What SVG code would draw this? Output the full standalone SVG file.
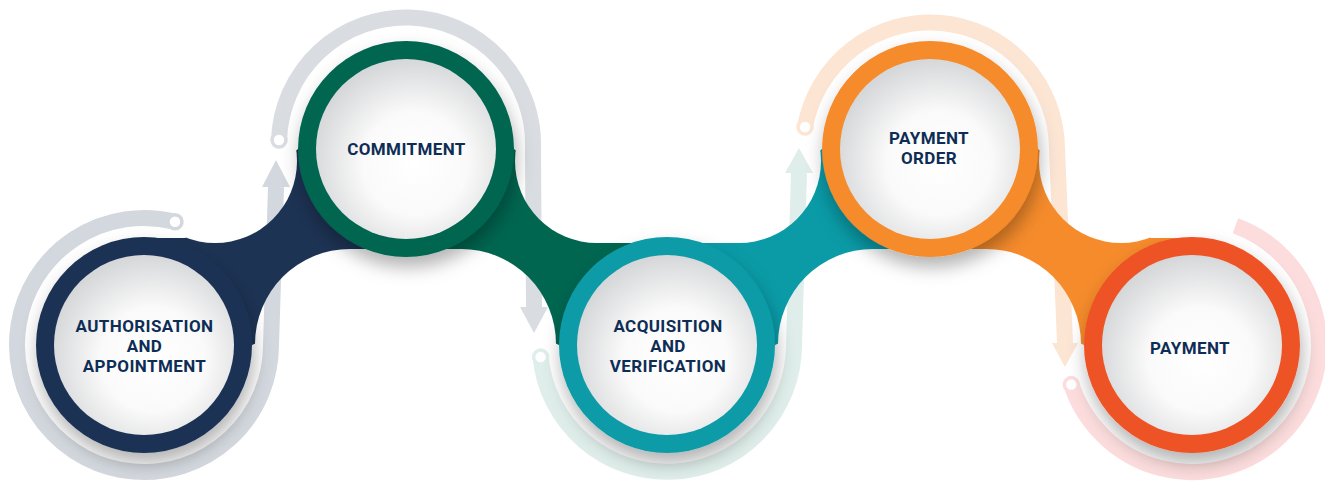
<svg xmlns="http://www.w3.org/2000/svg" width="1325" height="481" viewBox="0 0 1325 481">
<style>
.track{fill:none;stroke-width:16;stroke-linecap:butt}
.dot{fill:#ffffff;stroke-width:3.5}
.lbl{font-family:Roboto,"Liberation Sans",sans-serif;font-weight:700;font-size:17px;letter-spacing:0.4px;fill:#0e2d55;text-anchor:middle}
.inner{fill:url(#sphere)}
</style>
<defs>
<radialGradient id="sphere" cx="55%" cy="58%" r="58%">
<stop offset="0" stop-color="#ffffff"/>
<stop offset="0.5" stop-color="#fafafa"/>
<stop offset="1" stop-color="#d6d7d9"/>
</radialGradient>
<filter id="shadow" x="-30%" y="-30%" width="160%" height="170%">
<feDropShadow dx="2" dy="10" stdDeviation="9" flood-color="#000000" flood-opacity="0.3"/>
</filter>
<mask id="cut" maskUnits="userSpaceOnUse" x="0" y="0" width="1325" height="481">
<rect x="0" y="0" width="1325" height="481" fill="#ffffff"/>
<circle cx="215" cy="161" r="82" fill="#000000"/>
<rect x="515" y="79" width="306" height="164" rx="82" fill="#000000"/>
<circle cx="1121" cy="161" r="82" fill="#000000"/>
<rect x="255" y="249" width="301" height="190" rx="95" fill="#000000"/>
<rect x="778" y="249" width="303" height="190" rx="95" fill="#000000"/>
</mask>
</defs>
<rect width="1325" height="481" fill="#ffffff"/>

<g id="tracks">
<path class="track" stroke="#d3d8de" d="M175,221.8 A127,127 0 1 0 271,345 L276,187"/>
<polygon fill="#d3d8de" points="262,187 290,187 276,160"/>
<circle class="dot" stroke="#d3d8de" cx="175" cy="221.8" r="7"/>

<path class="track" stroke="#d9dde2" d="M279,140 A127,127 0 0 1 533,149 L534,307"/>
<polygon fill="#d9dde2" points="520,307 548,307 534,333"/>
<circle class="dot" stroke="#d9dde2" cx="279" cy="140" r="7"/>

<path class="track" stroke="#dfeeea" d="M540.6,357.1 A127,127 0 0 0 794,345 L799,173"/>
<polygon fill="#dfeeea" points="785,173 813,173 799,148"/>
<circle class="dot" stroke="#dfeeea" cx="540.6" cy="357.1" r="7"/>

<path class="track" stroke="#fde5d4" d="M805,127 A127,127 0 0 1 1057,149 L1065,343"/>
<polygon fill="#fde5d4" points="1052,343 1078,343 1065,367"/>
<circle class="dot" stroke="#fde5d4" cx="805" cy="127" r="7"/>

<path class="track" stroke="#fcdcdc" d="M1071.3,384.6 A127,127 0 1 0 1235.4,225.7"/>
<circle class="dot" stroke="#fcdcdc" cx="1071.3" cy="384.6" r="7"/>
</g>

<g id="connectors" mask="url(#cut)">
<polygon fill="#1d3354" points="144,345 144,238 185,238 215,215 298,149 406,149 406,257 350,300 252,345"/>
<polygon fill="#006650" points="667,345 667,238 626,238 596,215 514,149 406,149 406,257 461,300 559,345"/>
<polygon fill="#0a9ba7" points="667,345 667,238 708,238 738,215 822,149 930,149 930,257 874,300 775,345"/>
<polygon fill="#f58b2b" points="1192,345 1192,238 1151,238 1121,215 1038,149 930,149 930,257 986,300 1084,345"/>
</g>

<g id="node1">
<circle cx="144" cy="345" r="108" fill="#1d3354" filter="url(#shadow)"/>
<circle class="inner" cx="144" cy="345" r="90"/>
<text class="lbl" x="144.5" y="331.5">AUTHORISATION</text>
<text class="lbl" x="144.5" y="351.5">AND</text>
<text class="lbl" x="144.5" y="371.5">APPOINTMENT</text>
</g>
<g id="node2">
<circle cx="406" cy="149" r="108" fill="#006650" filter="url(#shadow)"/>
<circle class="inner" cx="406" cy="149" r="90"/>
<text class="lbl" x="406.5" y="155">COMMITMENT</text>
</g>
<g id="node3">
<circle cx="667" cy="345" r="108" fill="#0a9ba7" filter="url(#shadow)"/>
<circle class="inner" cx="667" cy="345" r="90"/>
<text class="lbl" x="668" y="331.5">ACQUISITION</text>
<text class="lbl" x="668" y="351.5">AND</text>
<text class="lbl" x="668" y="371.5">VERIFICATION</text>
</g>
<g id="node4">
<circle cx="930" cy="149" r="108" fill="#f58b2b" filter="url(#shadow)"/>
<circle class="inner" cx="930" cy="149" r="90"/>
<text class="lbl" x="929" y="144">PAYMENT</text>
<text class="lbl" x="929" y="164">ORDER</text>
</g>
<g id="node5">
<circle cx="1192" cy="345" r="108" fill="#ee5325" filter="url(#shadow)"/>
<circle class="inner" cx="1192" cy="345" r="90"/>
<text class="lbl" x="1190" y="354">PAYMENT</text>
</g>
</svg>
